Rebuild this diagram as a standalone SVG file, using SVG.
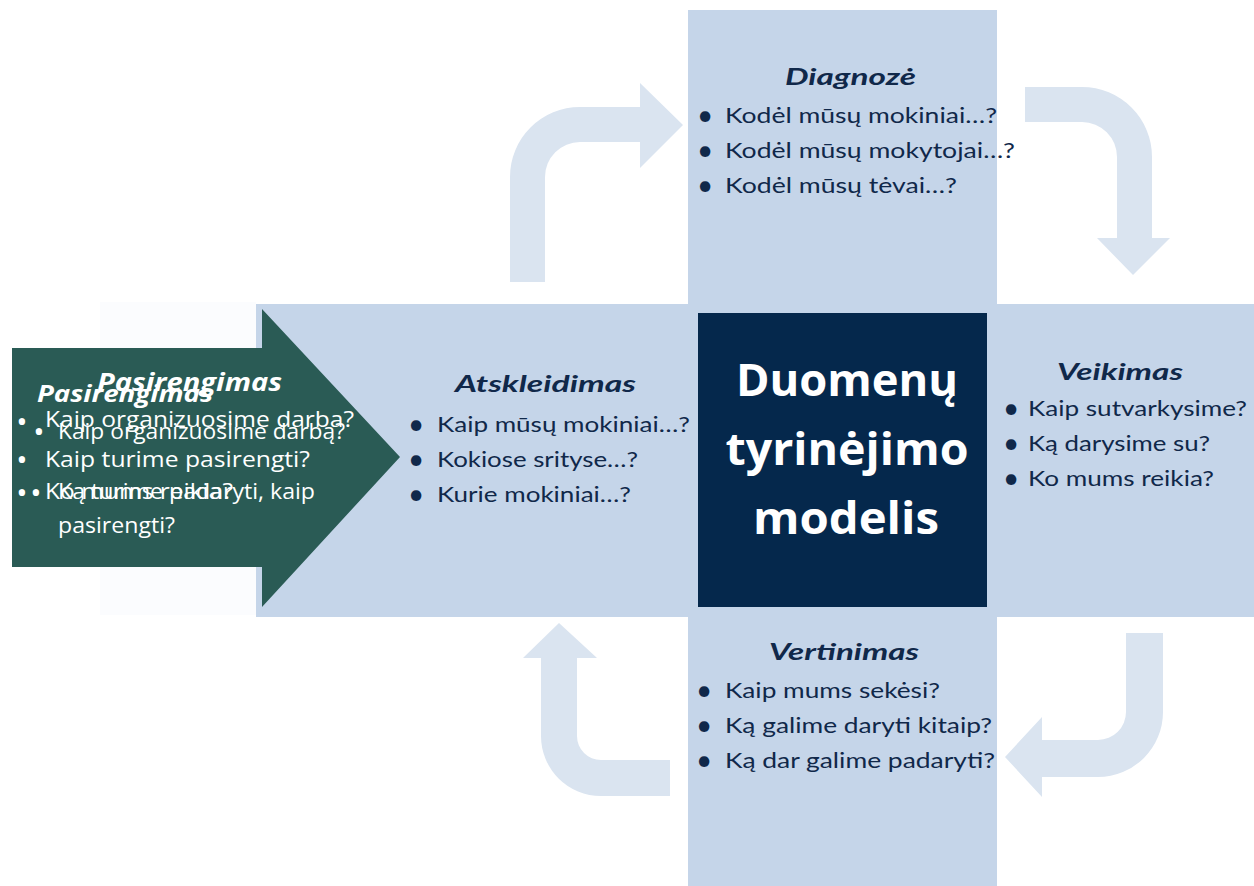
<svg xmlns="http://www.w3.org/2000/svg" width="1254" height="886" viewBox="0 0 1254 886">
<style>
.band{fill:#c5d5e9}
.curve{fill:#dae4f0}
.nt{font-family:Lato,"Liberation Sans",sans-serif;fill:#10284a;font-size:21.5px}
.nh{font-family:Lato,"Liberation Sans",sans-serif;fill:#10284a;font-size:23px;font-weight:bold;font-style:italic}
.nb{font-family:Lato,"Liberation Sans",sans-serif;fill:#10284a;font-size:28px;text-anchor:middle}
.wt{font-family:"Open Sans","Liberation Sans",sans-serif;fill:#ffffff;font-size:21px}
.wh{font-family:"Open Sans","Liberation Sans",sans-serif;fill:#ffffff;font-weight:bold;font-style:italic}
.wb{font-family:"Open Sans","Liberation Sans",sans-serif;fill:#ffffff;font-size:30px;text-anchor:middle}
.ct{font-family:"Open Sans","Liberation Sans",sans-serif;fill:#ffffff;font-size:44px;font-weight:bold;text-anchor:middle}
</style>
<rect width="1254" height="886" fill="#ffffff"/>
<rect x="100" y="302" width="156" height="313" fill="#fbfcfe"/>
<g id="bands">
<rect class="band" x="256" y="304" width="998" height="313"/>
<rect class="band" x="688" y="10" width="309" height="876"/>
</g>
<g id="connectors">
<path class="curve" d="M510,282 L510,177 A70,70 0 0 1 580,107 L640,107 L640,83 L683,125 L640,168 L640,142 L580,142 A35,35 0 0 0 545,177 L545,282 Z"/>
<path class="curve" d="M1025,87 L1082,87 A70,70 0 0 1 1152,157 L1152,238 L1170,238 L1133,275 L1097,238 L1117,238 L1117,157 A35,35 0 0 0 1082,122 L1025,122 Z"/>
<path class="curve" d="M1126,633 L1163,633 L1163,712 A65,65 0 0 1 1098,777 L1042,777 L1042,797 L1005,757 L1042,717 L1042,740 L1098,740 A28,28 0 0 0 1126,712 Z"/>
<path class="curve" d="M670,760 L670,796 L601,796 A60,60 0 0 1 541,736 L541,658 L523,658 L559,623 L597,658 L577,658 L577,736 A24,24 0 0 0 601,760 Z"/>
</g>
<g id="center">
<rect x="698" y="313" width="289" height="294" fill="#05284c"/>
<text class="ct" x="847" y="396" textLength="222" lengthAdjust="spacingAndGlyphs">Duomenų</text>
<text class="ct" x="847" y="465" textLength="243" lengthAdjust="spacingAndGlyphs">tyrinėjimo</text>
<text class="ct" x="846" y="534" textLength="186" lengthAdjust="spacingAndGlyphs">modelis</text>
</g>
<g id="diagnoze">
<text class="nh" x="785" y="85" textLength="131" lengthAdjust="spacingAndGlyphs">Diagnozė</text>
<text class="nb" x="705" y="125">•</text>
<text class="nt" x="725" y="123" textLength="272" lengthAdjust="spacingAndGlyphs">Kodėl mūsų mokiniai…?</text>
<text class="nb" x="705" y="160">•</text>
<text class="nt" x="725" y="158" textLength="290" lengthAdjust="spacingAndGlyphs">Kodėl mūsų mokytojai…?</text>
<text class="nb" x="705" y="195">•</text>
<text class="nt" x="725" y="193" textLength="232" lengthAdjust="spacingAndGlyphs">Kodėl mūsų tėvai…?</text>
</g>
<g id="atskleidimas">
<text class="nh" x="455" y="392" textLength="181" lengthAdjust="spacingAndGlyphs">Atskleidimas</text>
<text class="nb" x="416" y="434">•</text>
<text class="nt" x="437" y="432" textLength="253" lengthAdjust="spacingAndGlyphs">Kaip mūsų mokiniai…?</text>
<text class="nb" x="416" y="469">•</text>
<text class="nt" x="437" y="467" textLength="201" lengthAdjust="spacingAndGlyphs">Kokiose srityse…?</text>
<text class="nb" x="416" y="504">•</text>
<text class="nt" x="437" y="502" textLength="194" lengthAdjust="spacingAndGlyphs">Kurie mokiniai…?</text>
</g>
<g id="veikimas">
<text class="nh" x="1057" y="380" textLength="126" lengthAdjust="spacingAndGlyphs">Veikimas</text>
<text class="nb" x="1011" y="418">•</text>
<text class="nt" x="1028" y="416" textLength="219" lengthAdjust="spacingAndGlyphs">Kaip sutvarkysime?</text>
<text class="nb" x="1011" y="453">•</text>
<text class="nt" x="1028" y="451" textLength="182" lengthAdjust="spacingAndGlyphs">Ką darysime su?</text>
<text class="nb" x="1011" y="488">•</text>
<text class="nt" x="1028" y="486" textLength="186" lengthAdjust="spacingAndGlyphs">Ko mums reikia?</text>
</g>
<g id="vertinimas">
<text class="nh" x="769" y="660" textLength="150" lengthAdjust="spacingAndGlyphs">Vertinimas</text>
<text class="nb" x="704" y="700">•</text>
<text class="nt" x="725" y="698" textLength="215" lengthAdjust="spacingAndGlyphs">Kaip mums sekėsi?</text>
<text class="nb" x="704" y="735">•</text>
<text class="nt" x="725" y="733" textLength="267" lengthAdjust="spacingAndGlyphs">Ką galime daryti kitaip?</text>
<text class="nb" x="704" y="770">•</text>
<text class="nt" x="725" y="768" textLength="270" lengthAdjust="spacingAndGlyphs">Ką dar galime padaryti?</text>
</g>
<g id="pasirengimas">
<polygon points="12,348 262,348 262,309 400,457 262,607 262,567 12,567" fill="#2a5b55"/>
<text class="wh" x="97" y="391" font-size="25" textLength="185" lengthAdjust="spacingAndGlyphs">Pasirengimas</text>
<text class="wh" x="37" y="402" font-size="24" textLength="176" lengthAdjust="spacingAndGlyphs">Pasirengimas</text>
<text class="wb" x="22" y="432">•</text>
<text class="wt" x="45" y="427" textLength="309" lengthAdjust="spacingAndGlyphs">Kaip organizuosime darba?</text>
<text class="wb" x="39" y="442">•</text>
<text class="wt" x="58" y="439" textLength="287" lengthAdjust="spacingAndGlyphs">Kaip organizuosime darbą?</text>
<text class="wb" x="22" y="470">•</text>
<text class="wt" x="45" y="467" textLength="265" lengthAdjust="spacingAndGlyphs">Kaip turime pasirengti?</text>
<text class="wb" x="22" y="503">•</text>
<text class="wt" x="45" y="499" textLength="188" lengthAdjust="spacingAndGlyphs">Ko mums reikia?</text>
<text class="wb" x="36" y="503">•</text>
<text class="wt" x="58" y="499" textLength="257" lengthAdjust="spacingAndGlyphs">Ką turime padaryti, kaip</text>
<text class="wt" x="58" y="533" textLength="117" lengthAdjust="spacingAndGlyphs">pasirengti?</text>
</g>
</svg>
